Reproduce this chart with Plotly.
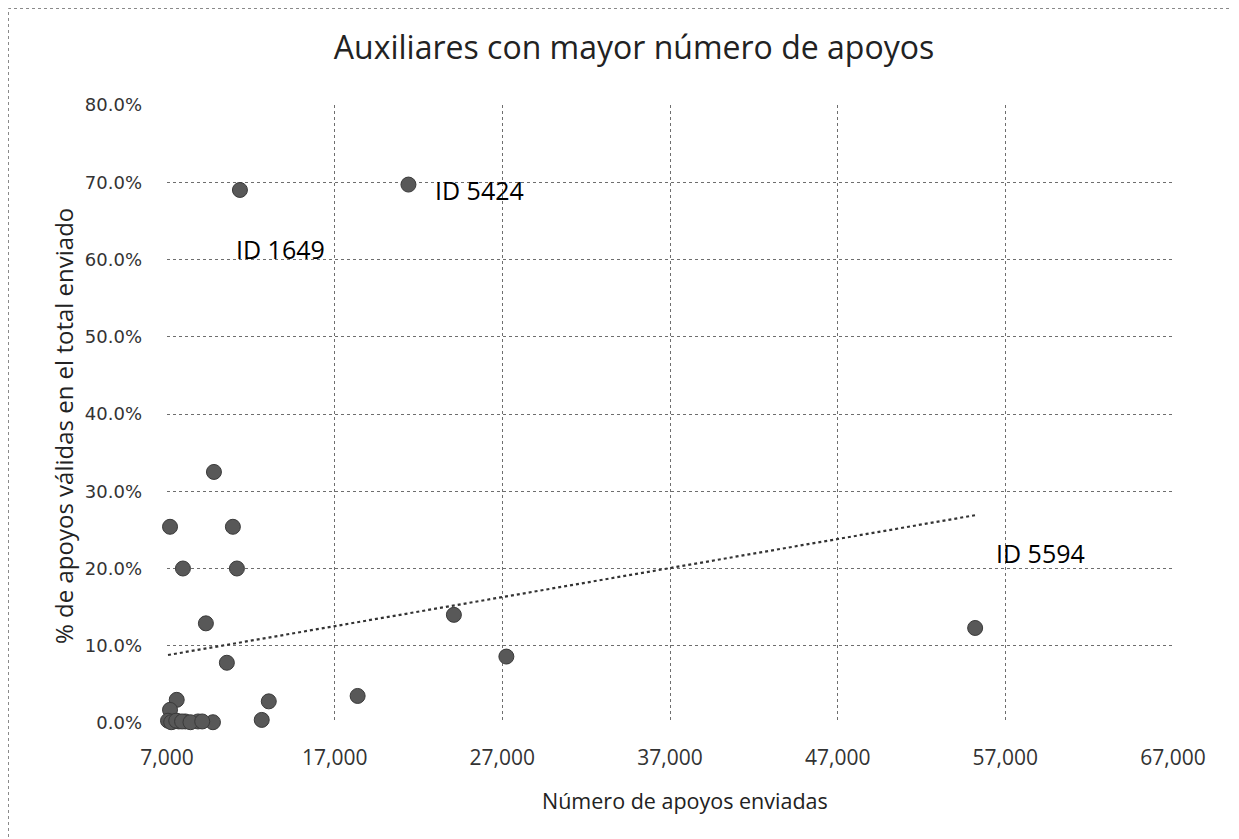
import plotly.graph_objects as go

# Data
apoyos_enviadas = [11350, 21400, 55200, 9800, 7180, 10930, 7950, 11170, 9320, 10570,
                   24110, 27240, 18370, 13070, 7580, 7180, 12650, 9740, 8850, 8100,
                   7700, 7400, 7060, 7250, 7550, 7900, 8400, 9100]
pct_validas = [0.690, 0.697, 0.123, 0.325, 0.254, 0.254, 0.200, 0.200, 0.129, 0.078,
               0.140, 0.086, 0.035, 0.028, 0.030, 0.017, 0.004, 0.001, 0.002, 0.002,
               0.002, 0.002, 0.003, 0.001, 0.003, 0.002, 0.001, 0.002]
labels = ["ID 1649", "ID 5424", "ID 5594"]
label_idx = [0, 1, 2]
trend_x = [7060, 55200]
trend_pct = [0.088, 0.269]
x_ticks = [7000, 17000, 27000, 37000, 47000, 57000, 67000]
y_ticks = [0.0, 0.1, 0.2, 0.3, 0.4, 0.5, 0.6, 0.7, 0.8]

fig = go.Figure()
fig.add_trace(go.Scatter(
    x=apoyos_enviadas, y=pct_validas, mode="markers",
    marker=dict(size=15, color="#585858", line=dict(width=1, color="#3a3a3a")),
    cliponaxis=False, showlegend=False, hoverinfo="x+y"))
fig.add_trace(go.Scatter(
    x=trend_x, y=trend_pct, mode="lines",
    line=dict(color="#333333", width=2.2, dash="dot"),
    showlegend=False, hoverinfo="skip"))

label_shift = [(41, -59), (71, -5), (65, 75)]
annotations = []
for lab, i, (dx, dy) in zip(labels, label_idx, label_shift):
    annotations.append(dict(
        x=apoyos_enviadas[i], y=pct_validas[i], xref="x", yref="y",
        text=lab, showarrow=False, xshift=dx, yshift=dy,
        font=dict(family="Open Sans", size=25, color="#000000")))

L, T, PW, PH = 159, 97, 1006, 618

# axis titles placed as annotations (paper coordinates)
annotations.append(dict(
    text="% de apoyos válidas en el total enviado", textangle=-90,
    xref="paper", yref="paper", x=(55 - L) / PW, y=(T + PH - 418) / PH,
    xanchor="center", yanchor="middle", showarrow=False,
    font=dict(family="Open Sans", size=24, color="#222222")))
annotations.append(dict(
    text="Número de apoyos enviadas",
    xref="paper", yref="paper", x=(677 - L) / PW, y=(T + PH - 792) / PH,
    xanchor="center", yanchor="middle", showarrow=False,
    font=dict(family="Open Sans", size=21.5, color="#222222")))

grid = dict(showgrid=True, gridcolor="#6e6e6e", gridwidth=1, griddash="dot",
            zeroline=False, showline=False, ticks="")

fig.update_layout(
    width=1239, height=839,
    margin=dict(l=L, r=1239 - L - PW, t=T, b=839 - T - PH),
    paper_bgcolor="white", plot_bgcolor="white",
    title=dict(text="Auxiliares con mayor número de apoyos",
               x=626 / 1239, xanchor="center", y=1 - 40 / 839, yanchor="middle",
               font=dict(family="Open Sans", size=32, color="#222222")),
    xaxis=dict(range=[7000, 67000], tickvals=x_ticks, tickformat=",d",
               tickfont=dict(family="Open Sans", size=21, color="#333333"),
               ticklabelstandoff=20, **grid),
    yaxis=dict(range=[0, 0.8], tickvals=y_ticks, tickformat=".1%",
               tickfont=dict(family="DejaVu Sans", size=18, color="#333333"),
               ticklabelstandoff=24, **grid),
    annotations=annotations,
    shapes=[dict(type="rect", xref="paper", yref="paper",
                 x0=(0.5 - L) / PW, x1=(1225 - L) / PW,
                 y0=(T + PH - 860) / PH, y1=(T + PH - 0.5) / PH,
                 line=dict(color="#8a8a8a", width=1, dash="dot"), layer="below")],
)

fig.write_html("out.html")
